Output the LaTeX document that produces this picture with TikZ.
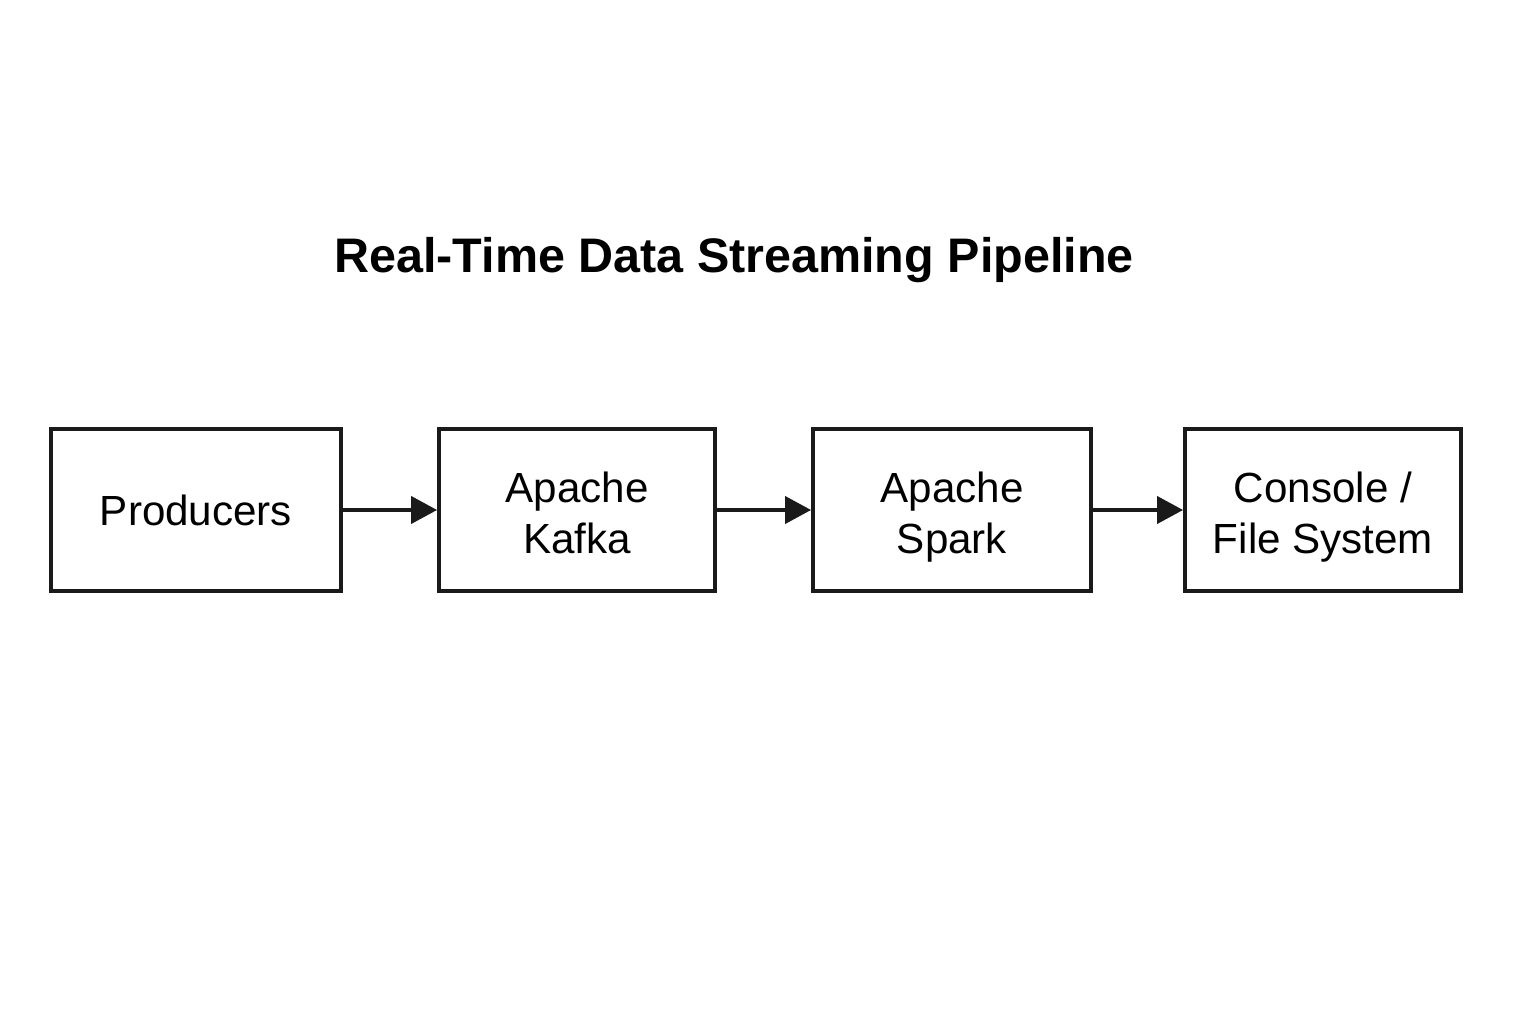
\documentclass[tikz,border=0pt]{standalone}
\usepackage{fontspec}
\setmainfont{Liberation Sans}
\usetikzlibrary{arrows.meta}
\definecolor{ink}{HTML}{1A1A1A}
\begin{document}
\begin{tikzpicture}[x=0.02cm,y=-0.02cm,
  box/.style={draw=ink,line width=2.2pt,minimum height=3.24cm,inner sep=0pt},
  txt/.style={align=center,inner sep=0pt,font=\fontsize{24pt}{29pt}\selectfont},
  flow/.style={draw=ink,line width=2.2pt,-{Triangle[length=0.52cm,width=0.54cm]}}]
\useasboundingbox (0,0) rectangle (1536,1024);
\node[font=\bfseries\fontsize{27.6pt}{33pt}\selectfont] (title) at (734,260) {Real-Time Data Streaming Pipeline};
\node[box,minimum width=5.80cm] (prod) at (196,510) {};
\node[box,minimum width=5.52cm] (kafka) at (577,510) {};
\node[box,minimum width=5.56cm] (spark) at (952,510) {};
\node[box,minimum width=5.52cm] (sink) at (1323,510) {};
\node[txt] (prodt) at (196,515) {\strut Producers};
\node[txt] (kafkat) at (577,518) {\strut Apache\\\strut Kafka};
\node[txt] (sparkt) at (952,518) {\strut Apache\\\strut Spark};
\node[txt] (sinkt) at (1323,518) {\strut Console /\\\strut File System};
\draw[flow] (prod) -- (kafka);
\draw[flow] (kafka) -- (spark);
\draw[flow] (spark) -- (sink);
\end{tikzpicture}
\end{document}
